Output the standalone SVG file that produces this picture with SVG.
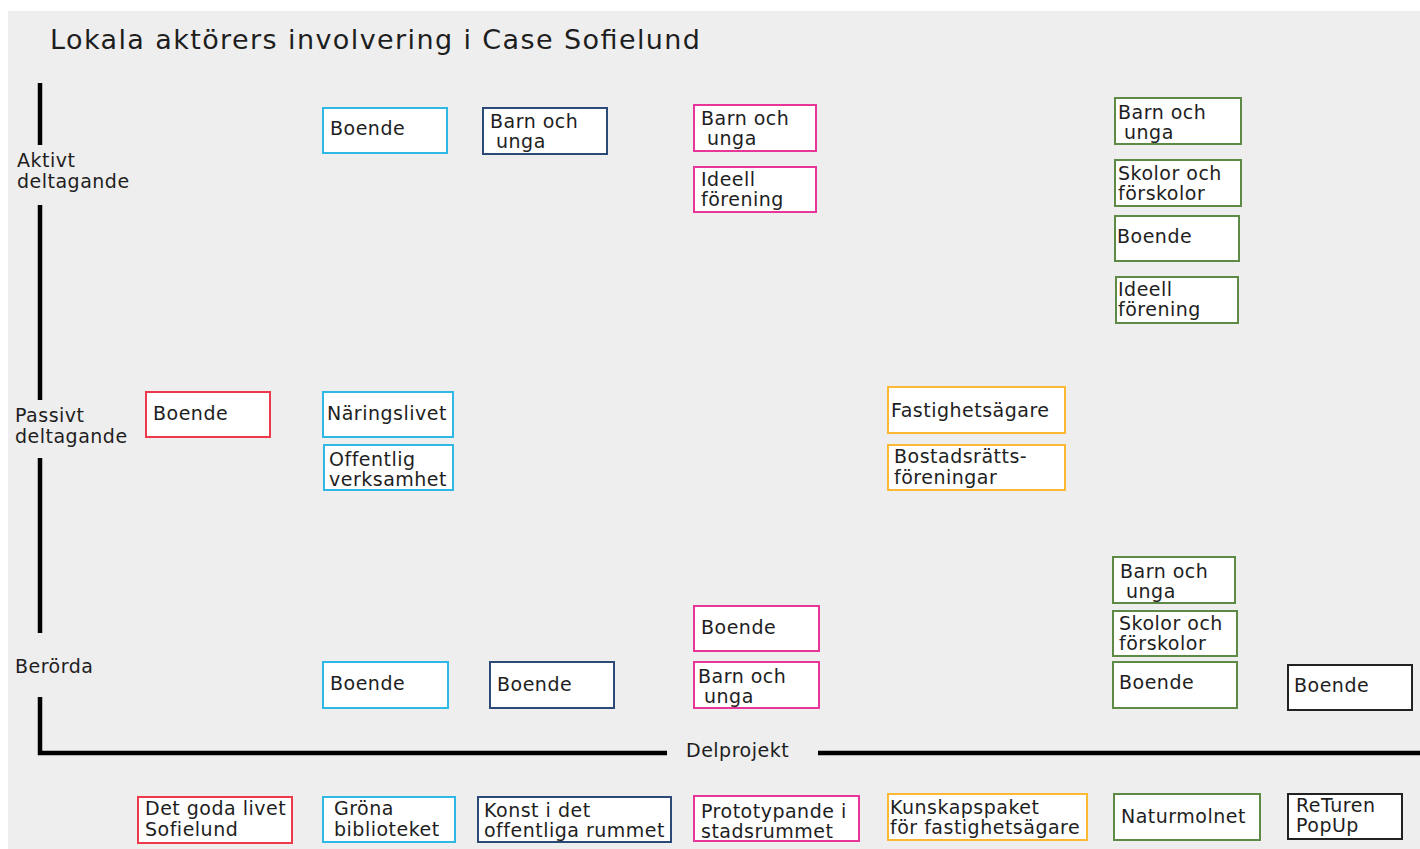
<svg xmlns="http://www.w3.org/2000/svg" width="1420" height="849" viewBox="0 0 1420 849">
<style>
text{font-family:"DejaVu Sans","Liberation Sans",sans-serif;font-size:19px;fill:#1e1e1e;letter-spacing:0.5px}
.title{font-size:27px;letter-spacing:0}
.box{fill:#fff;stroke-width:2}
.r{stroke:#ec3a4a}.lb{stroke:#2fb8e3}.nv{stroke:#2c4a78}.pk{stroke:#e7359a}.or{stroke:#fdb933}.gr{stroke:#5d8b46}.bk{stroke:#222}
.axis{stroke:#000;stroke-width:4.5;fill:none}
</style>
<rect x="8" y="11" width="1412" height="838" fill="#eeeeee"/>
<text class="title" x="50" y="49" textLength="650" lengthAdjust="spacing">Lokala aktörers involvering i Case Sofielund</text>
<g id="connectors">
<line class="axis" x1="40" y1="83" x2="40" y2="145"/>
<line class="axis" x1="40" y1="205" x2="40" y2="400"/>
<line class="axis" x1="40" y1="458" x2="40" y2="633"/>
<path class="axis" d="M40 697 V753 H667"/>
<line class="axis" x1="818" y1="753" x2="1420" y2="753"/>
</g>
<g id="axis-labels">
<text x="17" y="167">Aktivt</text><text x="17" y="188">deltagande</text>
<text x="15" y="422">Passivt</text><text x="15" y="443">deltagande</text>
<text x="15" y="673">Berörda</text>
<text x="686" y="757">Delprojekt</text>
</g>
<g id="red-boende"><rect class="box r" x="146" y="392" width="124" height="45"/><text x="153" y="420">Boende</text></g>
<g id="red-delprojekt"><rect class="box r" x="138" y="797" width="154" height="46"/><text x="145" y="815">Det goda livet</text><text x="145" y="836">Sofielund</text></g>
<g id="lb-boende-aktivt"><rect class="box lb" x="323" y="108" width="124" height="45"/><text x="330" y="135">Boende</text></g>
<g id="lb-naringslivet"><rect class="box lb" x="323" y="392" width="130" height="45"/><text x="327" y="420">Näringslivet</text></g>
<g id="lb-offentlig"><rect class="box lb" x="324" y="445" width="129" height="45"/><text x="329" y="466">Offentlig</text><text x="329" y="486">verksamhet</text></g>
<g id="lb-boende-berorda"><rect class="box lb" x="323" y="662" width="125" height="46"/><text x="330" y="690">Boende</text></g>
<g id="lb-delprojekt"><rect class="box lb" x="323" y="797" width="132" height="45"/><text x="334" y="815">Gröna</text><text x="334" y="836">biblioteket</text></g>
<g id="nv-barn-aktivt"><rect class="box nv" x="483" y="108" width="124" height="46"/><text x="490" y="128">Barn och</text><text x="496" y="148">unga</text></g>
<g id="nv-boende-berorda"><rect class="box nv" x="490" y="662" width="124" height="46"/><text x="497" y="691">Boende</text></g>
<g id="nv-delprojekt"><rect class="box nv" x="478" y="797" width="193" height="45"/><text x="484" y="817">Konst i det</text><text x="484" y="837">offentliga rummet</text></g>
<g id="pk-barn-aktivt"><rect class="box pk" x="694" y="105" width="122" height="46"/><text x="701" y="125">Barn och</text><text x="707" y="145">unga</text></g>
<g id="pk-ideell"><rect class="box pk" x="694" y="167" width="122" height="45"/><text x="701" y="186">Ideell</text><text x="701" y="206">förening</text></g>
<g id="pk-boende-berorda"><rect class="box pk" x="694" y="606" width="125" height="45"/><text x="701" y="634">Boende</text></g>
<g id="pk-barn-berorda"><rect class="box pk" x="694" y="662" width="125" height="46"/><text x="698" y="683">Barn och</text><text x="704" y="703">unga</text></g>
<g id="pk-delprojekt"><rect class="box pk" x="694" y="796" width="165" height="45"/><text x="701" y="818">Prototypande i</text><text x="701" y="838">stadsrummet</text></g>
<g id="or-fastighetsagare"><rect class="box or" x="888" y="387" width="177" height="46"/><text x="891" y="417">Fastighetsägare</text></g>
<g id="or-bostadsratt"><rect class="box or" x="888" y="445" width="177" height="45"/><text x="894" y="463">Bostadsrätts-</text><text x="894" y="484">föreningar</text></g>
<g id="or-delprojekt"><rect class="box or" x="888" y="794" width="199" height="46"/><text x="890" y="814">Kunskapspaket</text><text x="890" y="834">för fastighetsägare</text></g>
<g id="gr-barn-aktivt"><rect class="box gr" x="1115" y="98" width="126" height="46"/><text x="1118" y="119">Barn och</text><text x="1124" y="139">unga</text></g>
<g id="gr-skolor-aktivt"><rect class="box gr" x="1115" y="160" width="126" height="46"/><text x="1118" y="180">Skolor och</text><text x="1118" y="200">förskolor</text></g>
<g id="gr-boende-aktivt"><rect class="box gr" x="1115" y="216" width="124" height="45"/><text x="1117" y="243">Boende</text></g>
<g id="gr-ideell"><rect class="box gr" x="1116" y="277" width="122" height="46"/><text x="1118" y="296">Ideell</text><text x="1118" y="316">förening</text></g>
<g id="gr-barn-berorda"><rect class="box gr" x="1113" y="557" width="122" height="46"/><text x="1120" y="578">Barn och</text><text x="1126" y="598">unga</text></g>
<g id="gr-skolor-berorda"><rect class="box gr" x="1113" y="611" width="124" height="45"/><text x="1119" y="630">Skolor och</text><text x="1119" y="650">förskolor</text></g>
<g id="gr-boende-berorda"><rect class="box gr" x="1113" y="662" width="124" height="46"/><text x="1119" y="689">Boende</text></g>
<g id="gr-delprojekt"><rect class="box gr" x="1114" y="794" width="146" height="46"/><text x="1121" y="823">Naturmolnet</text></g>
<g id="bk-boende-berorda"><rect class="box bk" x="1288" y="665" width="124" height="45"/><text x="1294" y="692">Boende</text></g>
<g id="bk-delprojekt"><rect class="box bk" x="1288" y="794" width="114" height="45"/><text x="1296" y="812">ReTuren</text><text x="1296" y="832">PopUp</text></g>
</svg>
